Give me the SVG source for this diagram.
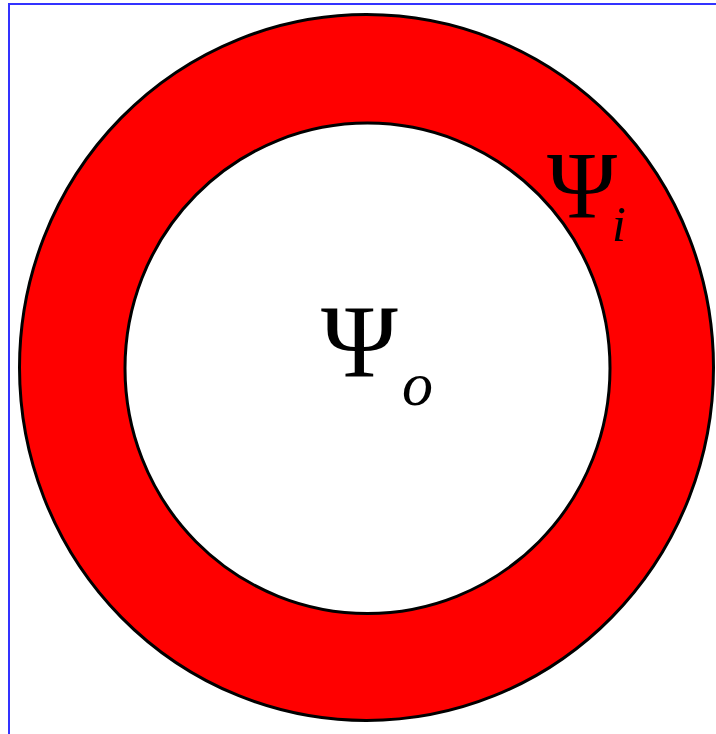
<svg xmlns="http://www.w3.org/2000/svg" width="716" height="734" viewBox="0 0 716 734">
<style>
.ring{stroke:#000;stroke-width:3}
.t{font-family:"Liberation Serif","Times New Roman",serif;fill:#000}
.it{font-style:italic}
</style>
<rect width="716" height="734" fill="#fff"/>
<path d="M9,734 V4 H716" fill="none" stroke="#3333ff" stroke-width="2"/>
<g id="outer">
<ellipse class="ring" cx="366.5" cy="367.5" rx="347" ry="353" fill="#ff0000"/>
</g>
<g id="inner">
<ellipse class="ring" cx="367.5" cy="368.3" rx="242.5" ry="245.2" fill="#fff"/>
</g>
<g id="labels">
<text class="t" x="547" y="218" font-size="95">Ψ</text>
<text class="t it" x="612" y="241" font-size="50">i</text>
<text class="t" x="321" y="377" font-size="104">Ψ</text>
<text class="t it" x="402" y="405" font-size="62">o</text>
</g>
</svg>
